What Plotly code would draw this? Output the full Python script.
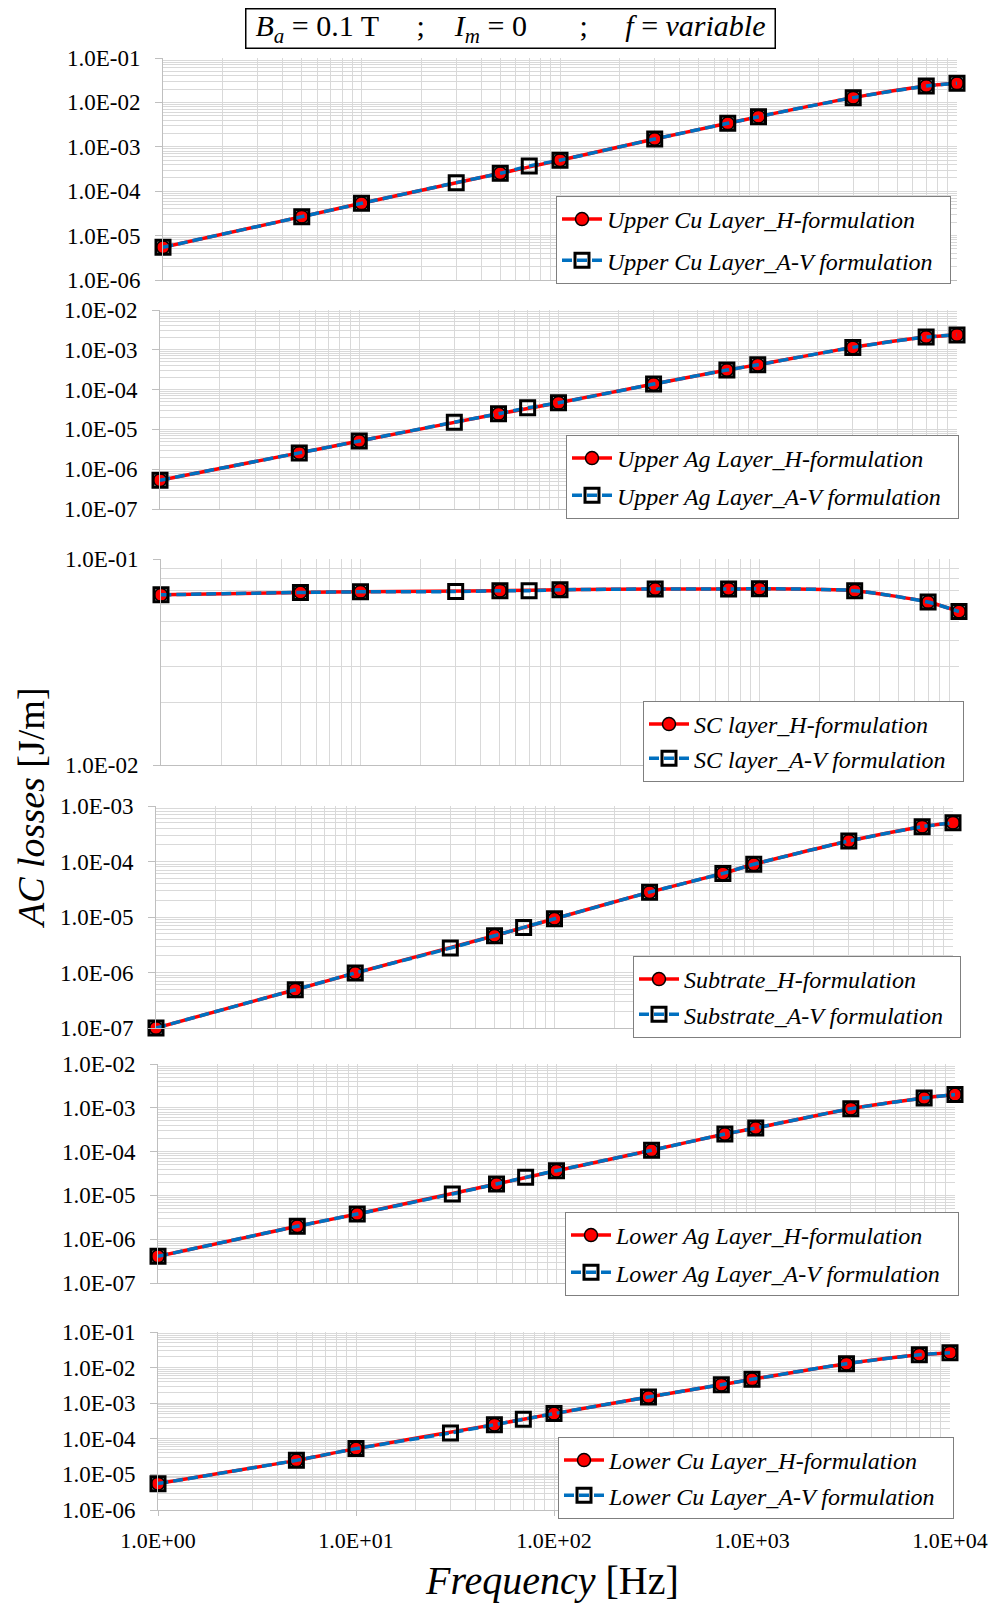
import plotly.graph_objects as go

W, H = 995, 1604

# Frequencies (Hz): A-V formulation at every point, H-formulation without 30 and 70 Hz
freq_av = [1, 5, 10, 30, 50, 70, 100, 300, 700, 1000, 3000, 7000, 10000]
freq_h = [1, 5, 10, 50, 100, 300, 700, 1000, 3000, 7000, 10000]

# AC losses [J/m] per layer (A-V formulation)
upper_cu_av = [5.46e-6, 2.67e-5, 5.33e-5, 1.56e-4, 2.53e-4, 3.70e-4, 5.0e-4, 1.50e-3, 3.38e-3, 4.77e-3, 1.28e-2, 2.34e-2, 2.69e-2]
upper_ag_av = [5.3e-7, 2.57e-6, 5.1e-6, 1.52e-5, 2.46e-5, 3.48e-5, 4.65e-5, 1.38e-4, 3.10e-4, 4.20e-4, 1.15e-3, 2.10e-3, 2.37e-3]
sc_av = [0.0670, 0.0688, 0.0693, 0.0695, 0.0702, 0.0702, 0.0709, 0.0715, 0.0715, 0.0717, 0.0702, 0.0618, 0.0556]
substrate_av = [1.0e-7, 4.9e-7, 9.8e-7, 2.75e-6, 4.6e-6, 6.5e-6, 9.3e-6, 2.8e-5, 6.1e-5, 8.9e-5, 2.34e-4, 4.24e-4, 5.0e-4]
lower_ag_av = [4.06e-7, 1.97e-6, 3.76e-6, 1.08e-5, 1.82e-5, 2.58e-5, 3.67e-5, 1.07e-4, 2.52e-4, 3.45e-4, 9.55e-4, 1.67e-3, 2.0e-3]
lower_cu_av = [5.5e-6, 2.48e-5, 5.3e-5, 1.46e-4, 2.5e-4, 3.52e-4, 5.1e-4, 1.49e-3, 3.31e-3, 4.68e-3, 1.29e-2, 2.30e-2, 2.63e-2]

# AC losses [J/m] per layer (H-formulation)
upper_cu_h = [5.46e-6, 2.67e-5, 5.33e-5, 2.53e-4, 5.0e-4, 1.50e-3, 3.38e-3, 4.77e-3, 1.28e-2, 2.34e-2, 2.69e-2]
upper_ag_h = [5.3e-7, 2.57e-6, 5.1e-6, 2.46e-5, 4.65e-5, 1.38e-4, 3.10e-4, 4.20e-4, 1.15e-3, 2.10e-3, 2.37e-3]
sc_h = [0.0670, 0.0688, 0.0693, 0.0702, 0.0709, 0.0715, 0.0715, 0.0717, 0.0702, 0.0618, 0.0556]
substrate_h = [1.0e-7, 4.9e-7, 9.8e-7, 4.6e-6, 9.3e-6, 2.8e-5, 6.1e-5, 8.9e-5, 2.34e-4, 4.24e-4, 5.0e-4]
lower_ag_h = [4.06e-7, 1.97e-6, 3.76e-6, 1.82e-5, 3.67e-5, 1.07e-4, 2.52e-4, 3.45e-4, 9.55e-4, 1.67e-3, 2.0e-3]
lower_cu_h = [5.5e-6, 2.48e-5, 5.3e-5, 2.5e-4, 5.1e-4, 1.49e-3, 3.31e-3, 4.68e-3, 1.29e-2, 2.30e-2, 2.63e-2]

names_h = ["Upper Cu Layer_H-formulation", "Upper Ag Layer_H-formulation", "SC layer_H-formulation",
           "Subtrate_H-formulation", "Lower Ag Layer_H-formulation", "Lower Cu Layer_H-formulation"]
names_av = ["Upper Cu Layer_A-V formulation", "Upper Ag Layer_A-V formulation", "SC layer_A-V formulation",
            "Substrate_A-V formulation", "Lower Ag Layer_A-V formulation", "Lower Cu Layer_A-V formulation"]

# y-axis decade exponents (low, high) per panel
y_exp = [(-6, -1), (-7, -2), (-2, -1), (-7, -3), (-7, -2), (-6, -1)]

# panel boxes in pixels: left, right, top, bottom
boxes = [(163, 957, 58, 280), (160, 957, 310, 509), (161, 959, 559, 765),
         (156, 953, 806, 1028), (158, 955, 1064, 1283), (158, 950, 1332, 1510)]
# legend anchors in pixels: right, top, and extra gap between the two entries
leg_pos = [(951, 196), (959, 435), (964, 701), (961, 956), (959, 1212), (954, 1437)]
leg_gap = [7, 3, 0, 1, 3, 1]

data_h = [upper_cu_h, upper_ag_h, sc_h, substrate_h, lower_ag_h, lower_cu_h]
data_av = [upper_cu_av, upper_ag_av, sc_av, substrate_av, lower_ag_av, lower_cu_av]

FONT = "Liberation Serif"
GRID = "#d9d9d9"
AXIS = "#bfbfbf"
nb = "\u00a0"

fig = go.Figure()
layout = dict(width=W, height=H, margin=dict(l=0, r=0, t=0, b=0, autoexpand=False), autosize=False,
              paper_bgcolor="white", plot_bgcolor="white",
              font=dict(family=FONT, size=22, color="black"), showlegend=True)

x_major = [1, 10, 100, 1000, 10000]
x_minor = [m * 10 ** k for k in range(0, 4) for m in range(2, 10)]

for i in range(6):
    n = i + 1
    xa = "x" if n == 1 else f"x{n}"
    ya = "y" if n == 1 else f"y{n}"
    lg = "legend" if n == 1 else f"legend{n}"
    l, r, t, b = boxes[i]
    lo, hi = y_exp[i]

    fig.add_trace(go.Scatter(
        x=freq_h, y=data_h[i], mode="lines+markers", name=f"<i>{names_h[i]}</i>",
        line=dict(color="#ff0000", width=3.5, shape="spline", smoothing=0.6),
        marker=dict(symbol="circle", size=13, color="#ff0000", line=dict(color="black", width=1.5)),
        xaxis=xa, yaxis=ya, legend=lg, legendgroup=f"h{n}", cliponaxis=False))
    fig.add_trace(go.Scatter(
        x=freq_av, y=data_av[i], mode="lines+markers", name=f"<i>{names_av[i]}</i>{nb*2}",
        line=dict(color="#0070c0", width=3.5, dash="10px,5px", shape="spline", smoothing=0.6),
        marker=dict(symbol="square-open", size=14, color="black", line=dict(color="black", width=3)),
        xaxis=xa, yaxis=ya, legend=lg, legendgroup=f"av{n}", cliponaxis=False))

    y_major = [10.0 ** k for k in range(lo, hi + 1)]
    y_minor = [m * 10.0 ** k for k in range(lo, hi) for m in range(2, 10)]
    bottom = (n == 6)

    layout["xaxis" if n == 1 else f"xaxis{n}"] = dict(
        type="log", range=[0, 4], domain=[l / W, r / W], anchor=ya, automargin=False,
        tickvals=x_major, ticktext=[f"1.0E{k:+03d}" for k in range(0, 5)],
        showticklabels=bottom, ticks="outside" if bottom else "", ticklen=5, tickcolor=AXIS,
        ticklabelstandoff=6, tickfont=dict(size=22, family=FONT),
        showgrid=True, gridcolor=GRID, gridwidth=1,
        minor=dict(tickvals=x_minor, showgrid=True, gridcolor=GRID, gridwidth=1, ticks=""),
        showline=True, linecolor=AXIS, linewidth=1, zeroline=False, mirror=False)
    layout["yaxis" if n == 1 else f"yaxis{n}"] = dict(
        type="log", range=[lo, hi], domain=[1 - b / H, 1 - t / H], anchor=xa, automargin=False,
        tickvals=y_major, ticktext=[f"1.0E{k:+03d}" for k in range(lo, hi + 1)],
        ticks="outside", ticklen=7, tickcolor=AXIS, ticklabelstandoff=10,
        tickfont=dict(size=23, family=FONT),
        showgrid=True, gridcolor=GRID, gridwidth=1,
        minor=dict(tickvals=y_minor, showgrid=True, gridcolor=GRID, gridwidth=1, ticks=""),
        showline=True, linecolor=AXIS, linewidth=1, zeroline=False)

    lx, ly = leg_pos[i]
    layout[lg] = dict(x=lx / W, y=1 - ly / H, xanchor="right", yanchor="top",
                      xref="paper", yref="paper",
                      bgcolor="white", bordercolor="#7f7f7f", borderwidth=1,
                      font=dict(family=FONT, size=24, color="black"),
                      tracegroupgap=leg_gap[i], itemwidth=40)

title_txt = (f"<i>B</i><sub><i>a</i></sub> = 0.1 T{nb*5};{nb*4}"
             f"<i>I</i><sub><i>m</i></sub> = 0{nb*7};{nb*5}<i>f</i> = <i>variable</i>")

layout["annotations"] = [
    dict(text=title_txt, xref="paper", yref="paper", x=510 / W, y=1 - 28.5 / H,
         xanchor="center", yanchor="middle", showarrow=False,
         font=dict(family=FONT, size=30, color="black"),
         bordercolor="black", borderwidth=1.5, borderpad=1, width=526, height=36,
         bgcolor="white", align="center"),
    dict(text="<i>AC losses</i> [J/m]", xref="paper", yref="paper", x=31 / W, y=1 - 808 / H,
         xanchor="center", yanchor="middle", showarrow=False, textangle=-90,
         font=dict(family=FONT, size=38, color="black")),
    dict(text="<i>Frequency</i> [Hz]", xref="paper", yref="paper", x=552 / W, y=1 - 1580 / H,
         xanchor="center", yanchor="middle", showarrow=False,
         font=dict(family=FONT, size=40, color="black")),
]

fig.update_layout(**layout)
fig.write_html("out.html")
